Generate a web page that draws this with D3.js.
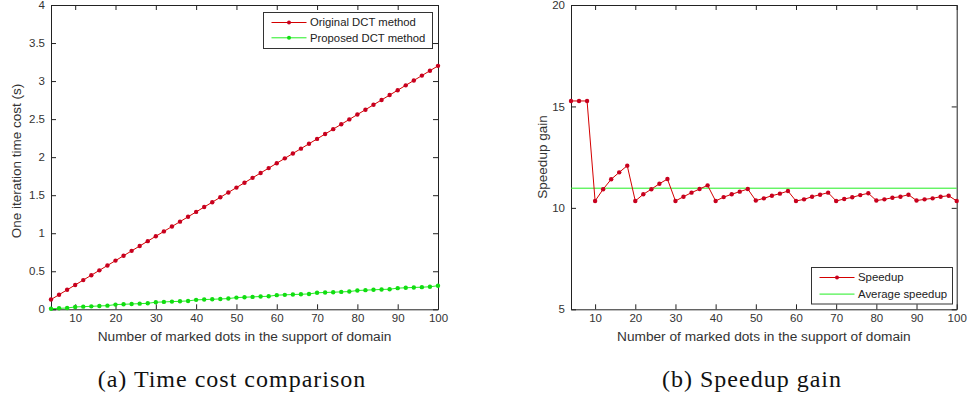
<!DOCTYPE html>
<html>
<head>
<meta charset="utf-8">
<script src="https://cdn.jsdelivr.net/npm/d3@7"></script>
<style>
  body { margin: 0; background: #fff; }
  svg { display: block; }
  .tick text { font-family: Arial, "Liberation Sans", sans-serif; font-size: 11.5px; fill: #333; }
  .domain, .tick line { stroke: #222; }
</style>
</head>
<body>
<svg width="968" height="403"></svg>
<script>
// number of marked dots
var dots = [4, 6, 8, 10, 12, 14, 16, 18, 20, 22, 24, 26, 28, 30, 32, 34, 36, 38, 40, 42, 44, 46, 48, 50,
            52, 54, 56, 58, 60, 62, 64, 66, 68, 70, 72, 74, 76, 78, 80, 82, 84, 86, 88, 90, 92, 94, 96, 98, 100];

// one iteration time cost (s)
var originalDct = [0.128, 0.192, 0.256, 0.320, 0.384, 0.448, 0.512, 0.576, 0.640, 0.704, 0.768, 0.832,
                   0.896, 0.960, 1.024, 1.088, 1.152, 1.216, 1.280, 1.344, 1.408, 1.472, 1.536, 1.600,
                   1.664, 1.728, 1.792, 1.856, 1.920, 1.984, 2.048, 2.112, 2.176, 2.240, 2.304, 2.368,
                   2.432, 2.496, 2.560, 2.624, 2.688, 2.752, 2.816, 2.880, 2.944, 3.008, 3.072, 3.136, 3.200];
var proposedDct = [0.008, 0.013, 0.017, 0.031, 0.035, 0.039, 0.044, 0.048, 0.062, 0.066, 0.070, 0.074,
                   0.079, 0.093, 0.097, 0.101, 0.105, 0.110, 0.124, 0.128, 0.132, 0.136, 0.141, 0.154,
                   0.159, 0.163, 0.168, 0.171, 0.186, 0.190, 0.194, 0.198, 0.202, 0.217, 0.221, 0.225,
                   0.229, 0.233, 0.247, 0.252, 0.256, 0.261, 0.264, 0.278, 0.283, 0.287, 0.291, 0.296, 0.310];

// speedup gain
var speedup = [15.27, 15.27, 15.27, 10.34, 10.92, 11.41, 11.75, 12.08, 10.34, 10.67, 10.92, 11.19,
               11.42, 10.34, 10.55, 10.75, 10.93, 11.11, 10.34, 10.53, 10.67, 10.80, 10.93, 10.36,
               10.47, 10.60, 10.70, 10.83, 10.34, 10.42, 10.55, 10.65, 10.75, 10.34, 10.44, 10.52,
               10.63, 10.72, 10.36, 10.42, 10.50, 10.55, 10.65, 10.36, 10.42, 10.47, 10.55, 10.60, 10.34];
var averageSpeedup = 10.97;

var xTicks = [10, 20, 30, 40, 50, 60, 70, 80, 90, 100];
var yTicksA = [0, 0.5, 1, 1.5, 2, 2.5, 3, 3.5, 4];
var yTicksB = [5, 10, 15, 20];

var red = "#d40000", redDot = "#c8001e";
var green = "#22ee22", greenDot = "#11dd11";
var font = "Arial, 'Liberation Sans', sans-serif";

var svg = d3.select("svg");

function panel(left, width, yDomain, yTicks) {
    var top = 5, height = 304.3;
    var g = svg.append("g").attr("transform", "translate(" + left + "," + top + ")");
    var x = d3.scaleLinear().domain([4, 100]).range([0, width]);
    var y = d3.scaleLinear().domain(yDomain).range([height, 0]);

    g.append("g")
        .attr("transform", "translate(0," + height + ")")
        .call(d3.axisBottom(x).tickValues(xTicks).tickSizeInner(-5).tickSizeOuter(0).tickPadding(5));
    g.append("g")
        .call(d3.axisTop(x).tickValues(xTicks).tickSizeInner(-5).tickSizeOuter(0).tickFormat(""));
    g.append("g")
        .call(d3.axisLeft(y).tickValues(yTicks).tickSizeInner(-5).tickSizeOuter(0).tickPadding(6)
            .tickFormat(d3.format("")));
    g.append("g")
        .attr("transform", "translate(" + width + ",0)")
        .call(d3.axisRight(y).tickValues(yTicks).tickSizeInner(-5).tickSizeOuter(0).tickFormat(""));

    g.append("text")
        .attr("x", width / 2)
        .attr("y", 335.5)
        .attr("text-anchor", "middle")
        .style("font-family", font)
        .style("font-size", "13.7px")
        .style("fill", "#333")
        .text("Number of marked dots in the support of domain");

    return {g: g, x: x, y: y, width: width, height: height};
}

function drawSeries(p, values, lineColor, dotColor) {
    var line = d3.line()
        .x(function (d, i) { return p.x(dots[i]); })
        .y(function (d) { return p.y(d); });
    p.g.append("path")
        .datum(values)
        .attr("fill", "none")
        .attr("stroke", lineColor)
        .attr("stroke-width", 1)
        .attr("d", line);
    p.g.append("g").selectAll("circle")
        .data(values)
        .enter()
        .append("circle")
        .attr("cx", function (d, i) { return p.x(dots[i]); })
        .attr("cy", function (d) { return p.y(d); })
        .attr("r", 2.2)
        .attr("fill", dotColor);
}

function legend(x0, y0, w, h, rows, fontSize, rowGap) {
    var lg = svg.append("g").attr("transform", "translate(" + x0 + "," + y0 + ")");
    lg.append("rect")
        .attr("width", w).attr("height", h)
        .attr("fill", "#fff").attr("stroke", "#333").attr("stroke-width", 1);
    rows.forEach(function (r, i) {
        var cy = 10 + i * rowGap;
        lg.append("line")
            .attr("x1", 8).attr("x2", 43).attr("y1", cy).attr("y2", cy)
            .attr("stroke", r.color);
        if (r.dot) {
            lg.append("circle").attr("cx", 25.5).attr("cy", cy).attr("r", 2).attr("fill", r.dot);
        }
        lg.append("text")
            .attr("x", 46.5).attr("y", cy).attr("dy", "0.35em")
            .style("font-family", font)
            .style("font-size", fontSize)
            .style("fill", "#222")
            .text(r.label);
    });
}

// (a) time cost comparison
var a = panel(51, 387, [0, 4], yTicksA);
drawSeries(a, originalDct, red, redDot);
drawSeries(a, proposedDct, green, greenDot);
svg.append("text")
    .attr("transform", "translate(21," + 161 + ") rotate(-90)")
    .attr("text-anchor", "middle")
    .style("font-family", font).style("font-size", "13.5px").style("fill", "#333")
    .text("One iteration time cost (s)");
legend(263.5, 12.5, 169, 36, [
    {label: "Original DCT method", color: red, dot: redDot},
    {label: "Proposed DCT method", color: green, dot: greenDot}
], "11.3px", 15.3);

// (b) speedup gain
var b = panel(571, 385.7, [5, 20], yTicksB);
b.g.append("line")
    .attr("x1", 0).attr("x2", b.width)
    .attr("y1", b.y(averageSpeedup)).attr("y2", b.y(averageSpeedup))
    .attr("stroke", green).attr("stroke-width", 1);
drawSeries(b, speedup, red, redDot);
svg.append("text")
    .attr("transform", "translate(547," + 157 + ") rotate(-90)")
    .attr("text-anchor", "middle")
    .style("font-family", font).style("font-size", "13.5px").style("fill", "#333")
    .text("Speedup gain");
legend(811.5, 267.5, 141, 36.5, [
    {label: "Speedup", color: red, dot: redDot},
    {label: "Average speedup", color: green}
], "11.4px", 16.6);

// captions
[{x: 232, label: "(a) Time cost comparison"}, {x: 752, label: "(b) Speedup gain"}].forEach(function (c) {
    svg.append("text")
        .attr("x", c.x).attr("y", 387)
        .attr("text-anchor", "middle")
        .style("font-family", "'Liberation Serif', 'Times New Roman', serif")
        .style("font-size", "24px")
        .style("letter-spacing", "1px")
        .style("fill", "#111")
        .text(c.label);
});
</script>
</body>
</html>
